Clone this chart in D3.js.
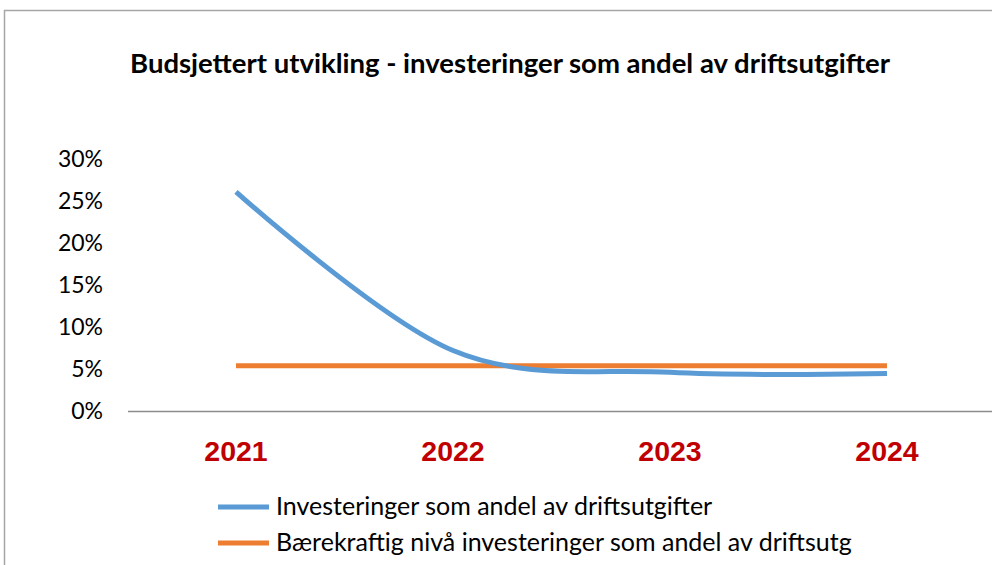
<!DOCTYPE html>
<html>
<head>
<meta charset="utf-8">
<script src="https://cdn.jsdelivr.net/npm/d3@7"></script>
<style>
  body { margin: 0; background: #fff; }
  svg { display: block; }
</style>
</head>
<body>
<div id="chart"></div>
<script>
  // chart data
  var years = ["2021", "2022", "2023", "2024"];
  var investeringer = [0.261, 0.072, 0.046, 0.0445];
  var baerekraftig = [0.054, 0.054, 0.054, 0.054];
  var yTicks = [0, 0.05, 0.10, 0.15, 0.20, 0.25, 0.30];
  var seriesNames = ["Investeringer som andel av driftsutgifter",
                     "Bærekraftig nivå investeringer som andel av driftsutg"];
  var seriesColors = ["#5b9bd5", "#ed7d31"];

  var width = 992, height = 565;
  var font = "Lato, 'Open Sans', sans-serif";

  var svg = d3.select("#chart").append("svg")
      .attr("width", width)
      .attr("height", height);

  // outer frame (only top and left visible)
  svg.append("path")
     .attr("d", "M4.5," + height + "V10.5H" + width)
     .attr("fill", "none")
     .attr("stroke", "#a6a6a6")
     .attr("stroke-width", 1.5);

  svg.append("text")
     .attr("x", 510)
     .attr("y", 73)
     .attr("text-anchor", "middle")
     .style("font-family", font)
     .style("font-weight", "bold")
     .style("font-size", "27.5px")
     .style("fill", "#000")
     .text("Budsjettert utvikling - investeringer som andel av driftsutgifter");

  var x = d3.scalePoint()
      .domain(years)
      .range([236, 887]);

  var y = d3.scaleLinear()
      .domain([0, 0.30])
      .range([411, 159]);

  // y labels
  svg.selectAll(".ylab")
     .data(yTicks)
     .enter().append("text")
       .attr("class", "ylab")
       .attr("x", 103)
       .attr("y", function(d) { return y(d) + 8; })
       .attr("text-anchor", "end")
       .style("font-family", font)
       .style("font-size", "23px")
       .style("fill", "#000")
       .text(function(d) { return d3.format(".0%")(d); });

  // x axis line
  svg.append("line")
     .attr("x1", 128)
     .attr("x2", width)
     .attr("y1", y(0) + 0.5)
     .attr("y2", y(0) + 0.5)
     .attr("stroke", "#8c8c8c")
     .attr("stroke-width", 1.5);

  svg.selectAll(".xlab")
     .data(years)
     .enter().append("text")
       .attr("class", "xlab")
       .attr("x", function(d) { return x(d); })
       .attr("y", 461)
       .attr("text-anchor", "middle")
       .style("font-family", "'Liberation Sans', Arial, sans-serif")
       .style("font-weight", "bold")
       .style("font-size", "28.5px")
       .style("fill", "#c00000")
       .text(function(d) { return d; });

  var line = d3.line()
      .x(function(d, i) { return x(years[i]); })
      .y(function(d) { return y(d); })
      .curve(d3.curveCatmullRom.alpha(0));

  var flat = d3.line()
      .x(function(d, i) { return x(years[i]); })
      .y(function(d) { return y(d); });

  svg.append("path")
     .attr("d", flat(baerekraftig))
     .attr("fill", "none")
     .attr("stroke", seriesColors[1])
     .attr("stroke-width", 5);

  svg.append("path")
     .attr("d", line(investeringer))
     .attr("fill", "none")
     .attr("stroke", seriesColors[0])
     .attr("stroke-width", 5);

  // legend
  var legend = svg.selectAll(".legend")
      .data(seriesNames)
      .enter().append("g")
        .attr("class", "legend")
        .attr("transform", function(d, i) { return "translate(218," + (507 + i * 36) + ")"; });

  legend.append("line")
     .attr("x1", 0)
     .attr("x2", 51)
     .attr("stroke", function(d, i) { return seriesColors[i]; })
     .attr("stroke-width", 5);

  legend.append("text")
     .attr("x", 58)
     .attr("y", 8)
     .style("font-family", font)
     .style("font-size", "25px")
     .style("fill", "#000")
     .text(function(d) { return d; });
</script>
</body>
</html>
